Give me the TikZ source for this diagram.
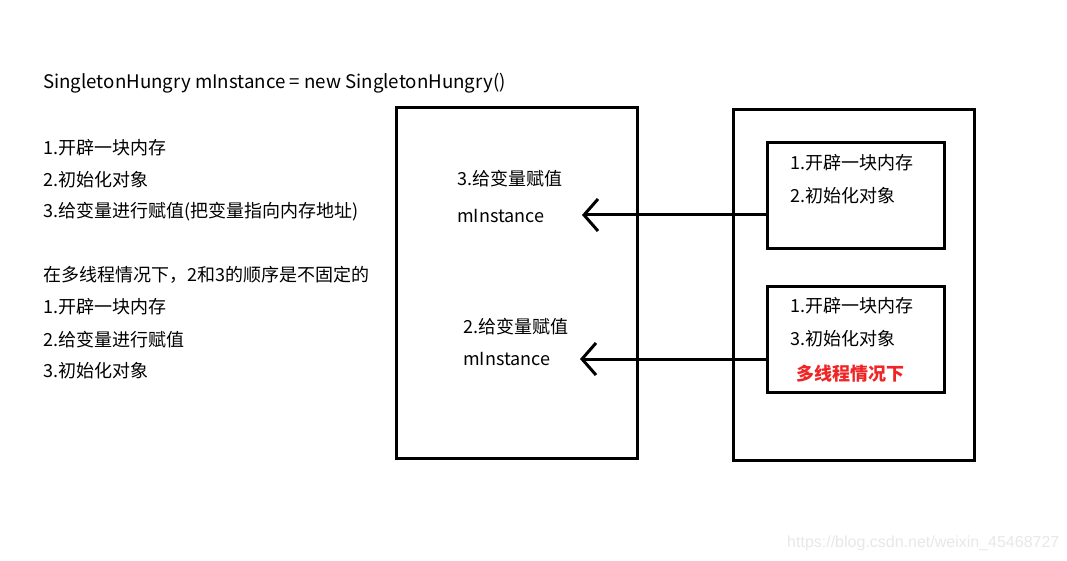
\documentclass[tikz,border=0pt]{standalone}
\usepackage{fontspec}
\setmainfont{Noto Sans CJK SC}
\newfontfamily\marksf{Liberation Sans}
\usetikzlibrary{arrows.meta}
\definecolor{warnred}{RGB}{240,36,36}
\begin{document}
\begin{tikzpicture}[x=1pt,y=-1pt,
        txt/.style={anchor=west,inner sep=0pt,font=\fontsize{18}{20}\selectfont},
        frame/.style={draw,line width=3pt},
        memory/.style={frame,anchor=north west,minimum width=177pt,minimum height=106pt,inner sep=0pt},
        arr/.style={line width=3pt,-{Straight Barb[length=14pt,width=32pt]}}]
    \useasboundingbox[fill=white] (0,0) rectangle (1067,561);

    \node[txt,font=\fontsize{18.7}{20}\selectfont] (decl) at (43,83)
        {SingletonHungry mInstance = new SingletonHungry()};
    \node[txt] (stepA) at (43,148) {1.开辟一块内存};
    \node[txt] (stepB) at (43,180) {2.初始化对象};
    \node[txt] (stepC) at (43,212) {3.给变量进行赋值(把变量指向内存地址)};
    \node[txt] (multi) at (43,275) {在多线程情况下，2和3的顺序是不固定的};
    \node[txt] (mstepA) at (43,307) {1.开辟一块内存};
    \node[txt] (mstepB) at (43,340) {2.给变量进行赋值};
    \node[txt] (mstepC) at (43,371) {3.初始化对象};

    \draw[frame] (396,108) rectangle (637,458);
    \node[txt] (assignA) at (457,179) {3.给变量赋值};
    \node[txt] (varA) at (457,216) {mInstance};
    \node[txt] (assignB) at (463,327) {2.给变量赋值};
    \node[txt] (varB) at (463,359) {mInstance};

    \draw[frame] (733,110) rectangle (974,460);
    \node[memory] (newA) at (766,141) {};
    \node[txt] (newAone) at (790,163) {1.开辟一块内存};
    \node[txt] (newAtwo) at (790,196) {2.初始化对象};
    \node[memory] (newB) at (766,285) {};
    \node[txt] (newBone) at (790,306) {1.开辟一块内存};
    \node[txt] (newBtwo) at (790,339) {3.初始化对象};
    \node[txt,anchor=center,text=warnred,font=\fontsize{18}{20}\selectfont\bfseries]
        (warn) at (850,374) {多线程情况下};

    \coordinate (tipA) at (582,215);
    \coordinate (tipB) at (580,359);
    \draw[arr] (tipA -| newA.west) -- (tipA);
    \draw[arr] (tipB -| newB.west) -- (tipB);

    \node[txt,text=black!9,font=\marksf\fontsize{16}{18}\selectfont]
        (mark) at (787,543) {https://blog.csdn.net/weixin\_45468727};
\end{tikzpicture}
\end{document}
